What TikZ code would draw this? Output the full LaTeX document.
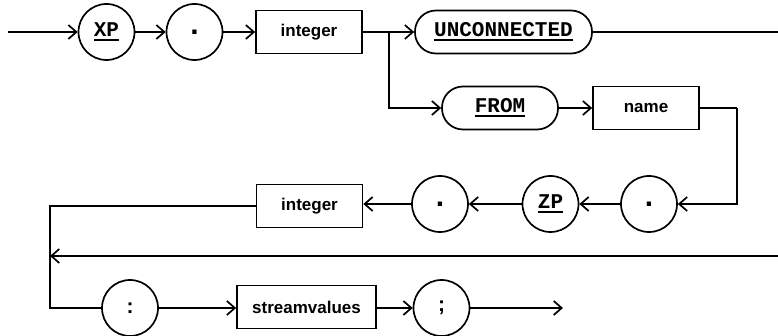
\documentclass[tikz,border=0pt]{standalone}
\usepackage{fontspec}
\setmainfont{Liberation Sans}
\setmonofont{Liberation Mono}
\usetikzlibrary{arrows.meta, positioning}
\newcommand{\kw}[1]{\setbox0\hbox{\ttfamily\bfseries #1}\leavevmode\vtop{\copy0\kern2.5pt\hrule height 2pt}}
\newcommand{\period}{{\fontsize{30}{30}\selectfont .}}

\begin{document}
\begin{tikzpicture}[
  x=1pt, y=-1pt,
  line width=1.7pt,
  every node/.style = {font=\fontsize{17}{19}\selectfont\bfseries},
  term/.style = {circle, draw, minimum size=56pt, inner sep=0pt, font=\fontsize{21}{23}\selectfont\bfseries},
  nonterm/.style = {rectangle, draw, minimum width=106pt, minimum height=43pt, inner sep=2pt},
  keyword/.style = {rectangle, rounded corners=21pt, draw, minimum height=43pt, inner sep=2pt, font=\fontsize{21}{23}\selectfont},
  >={Straight Barb[length=8pt, width=14pt]}
]
  \useasboundingbox (0,0) rectangle (778,336);

  % first row
  \coordinate (start) at (8,32);
  \node[term] (xp) at (106.5,32) {\kw{XP}};
  \node[term] (dotA) at (194.5,32) {\period};
  \node[nonterm] (intA) at (309,32) {integer};
  \coordinate (fork) at (389,32);
  \node[keyword, minimum width=177pt] (unconn) at (503.5,32) {\kw{UNCONNECTED}};
  \coordinate (exitA) at (778,32);

  % second row
  \node[keyword, minimum width=116pt] (from) at (500,108) {\kw{FROM}};
  \node[nonterm] (name) at (646,108) {name};
  \coordinate (turnA) at (737,108);

  % third row, right to left
  \node[term] (dotB) at (649,204) {\period};
  \node[term] (zp) at (550.5,204) {\kw{ZP}};
  \node[term] (dotC) at (440,204) {\period};
  \node[nonterm] (intB) at (309.5,206) {integer};
  \coordinate (turnB) at (50,206);

  % return line
  \coordinate (backR) at (778,256);
  \coordinate (backL) at (50,256);

  % last row
  \coordinate (turnC) at (50,308);
  \node[term] (colon) at (130,308) {:};
  \node[nonterm, minimum width=139pt] (values) at (306.5,307) {streamvalues};
  \node[term] (semi) at (441.5,308) {;};
  \coordinate (stop) at (563,308);

  \draw[->] (start) -- (xp);
  \draw[->] (xp) -- (dotA);
  \draw[->] (dotA) -- (intA);
  \draw (intA.east) -- (fork);
  \draw[->] (fork) -- (unconn);
  \draw (unconn) -- (exitA);
  \draw[->] (fork) |- (from);
  \draw[->] (from) -- (name);
  \draw (name.east) -- (turnA);
  \draw[->] (turnA) |- (dotB);
  \draw[->] (dotB) -- (zp);
  \draw[->] (zp) -- (dotC);
  \draw[->] (dotC) -- (intB.east |- dotC);
  \draw (intB.west) -- (turnB) -- (turnC) -- (colon);
  \draw[->] (backR) -- (backL);
  \draw[->] (colon) -- (values.west |- colon);
  \draw[->] (values.east |- semi) -- (semi);
  \draw[->] (semi) -- (stop);
\end{tikzpicture}
\end{document}
